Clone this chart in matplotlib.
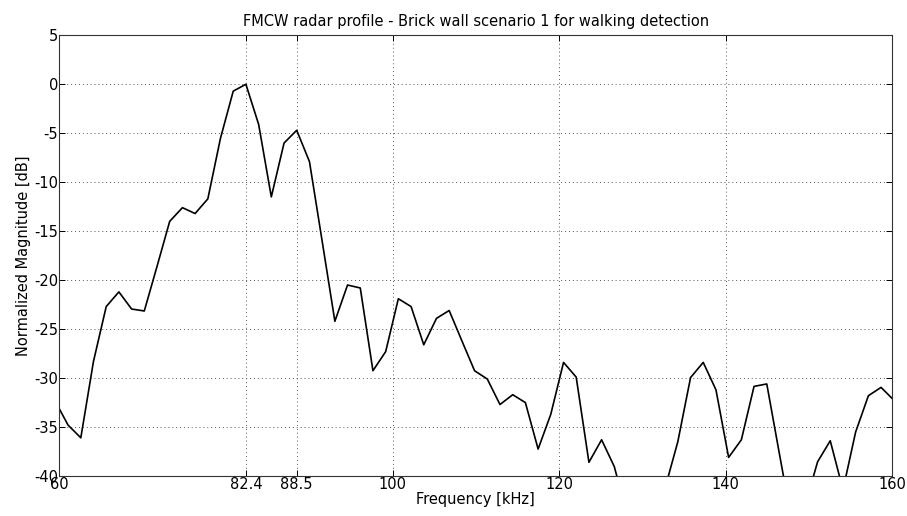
"""FMCW radar profile, brick wall scenario 1 (walking detection)."""
import matplotlib
matplotlib.use("Agg")
import matplotlib.pyplot as plt

plt.rcParams["font.family"] = ["DejaVu Sans"]

# frequency bins [kHz] and normalized magnitude [dB]
freq_khz = [59.53, 61.05, 62.58, 64.10, 65.63, 67.15, 68.68, 70.20, 71.73, 73.25,
            74.78, 76.30, 77.83, 79.35, 80.88, 82.40, 83.93, 85.45, 86.98, 88.50,
            90.03, 91.55, 93.08, 94.60, 96.13, 97.65, 99.18, 100.70, 102.23, 103.75,
            105.28, 106.80, 108.33, 109.85, 111.38, 112.90, 114.43, 115.95, 117.48, 119.00,
            120.53, 122.05, 123.58, 125.10, 126.63, 128.15, 129.68, 131.20, 132.73, 134.25,
            135.78, 137.30, 138.83, 140.35, 141.88, 143.40, 144.93, 146.45, 147.98, 149.50,
            151.03, 152.55, 154.08, 155.60, 157.13, 158.65, 160.18]
mag_db = [-32.4, -34.8, -36.1, -28.3, -22.7, -21.2, -22.95, -23.15, -18.6, -14.0,
          -12.6, -13.2, -11.7, -5.5, -0.7, 0.0, -4.1, -11.5, -6.0, -4.7,
          -7.9, -16.0, -24.2, -20.5, -20.8, -29.25, -27.3, -21.9, -22.7, -26.6,
          -23.9, -23.1, -26.2, -29.25, -30.1, -32.7, -31.7, -32.5, -37.25, -33.7,
          -28.4, -29.9, -38.6, -36.3, -39.05, -44.0, -47.0, -45.5, -41.2, -36.5,
          -29.95, -28.4, -31.2, -38.1, -36.3, -30.85, -30.6, -37.75, -44.9, -43.1,
          -38.55, -36.4, -41.4, -35.5, -31.8, -30.95, -32.25]

xticks = [60, 82.4, 88.5, 100, 120, 140, 160]
xticklabels = ["60", "82.4", "88.5", "100", "120", "140", "160"]
yticks = [5, 0, -5, -10, -15, -20, -25, -30, -35, -40]

fig = plt.figure(figsize=(9.07, 5.16), dpi=100)
ax = fig.add_axes([0.0654, 0.0775, 0.9184, 0.8541])
ax.plot(freq_khz, mag_db, color="black", lw=1.2)

ax.set_xlim(60, 160)
ax.set_ylim(-40, 5)
ax.set_xticks(xticks)
ax.set_xticklabels(xticklabels)
ax.set_yticks(yticks)
ax.set_yticklabels([str(t) for t in yticks])
ax.grid(True, color="#555555", linestyle=(0, (1, 3)), linewidth=0.7)
ax.tick_params(direction="in", top=True, right=True, length=4, width=0.7,
               labelsize=10.5, pad=1, colors="black")
for s in ax.spines.values():
    s.set_linewidth(0.8)
    s.set_color("#333333")

ax.set_xlabel("Frequency [kHz]", fontsize=10.5, labelpad=0)
ax.set_ylabel("Normalized Magnitude [dB]", fontsize=10.5, labelpad=2)
ax.set_title("FMCW radar profile - Brick wall scenario 1 for walking detection",
             fontsize=10.5, pad=7)

fig.savefig("out.png", dpi=100)
